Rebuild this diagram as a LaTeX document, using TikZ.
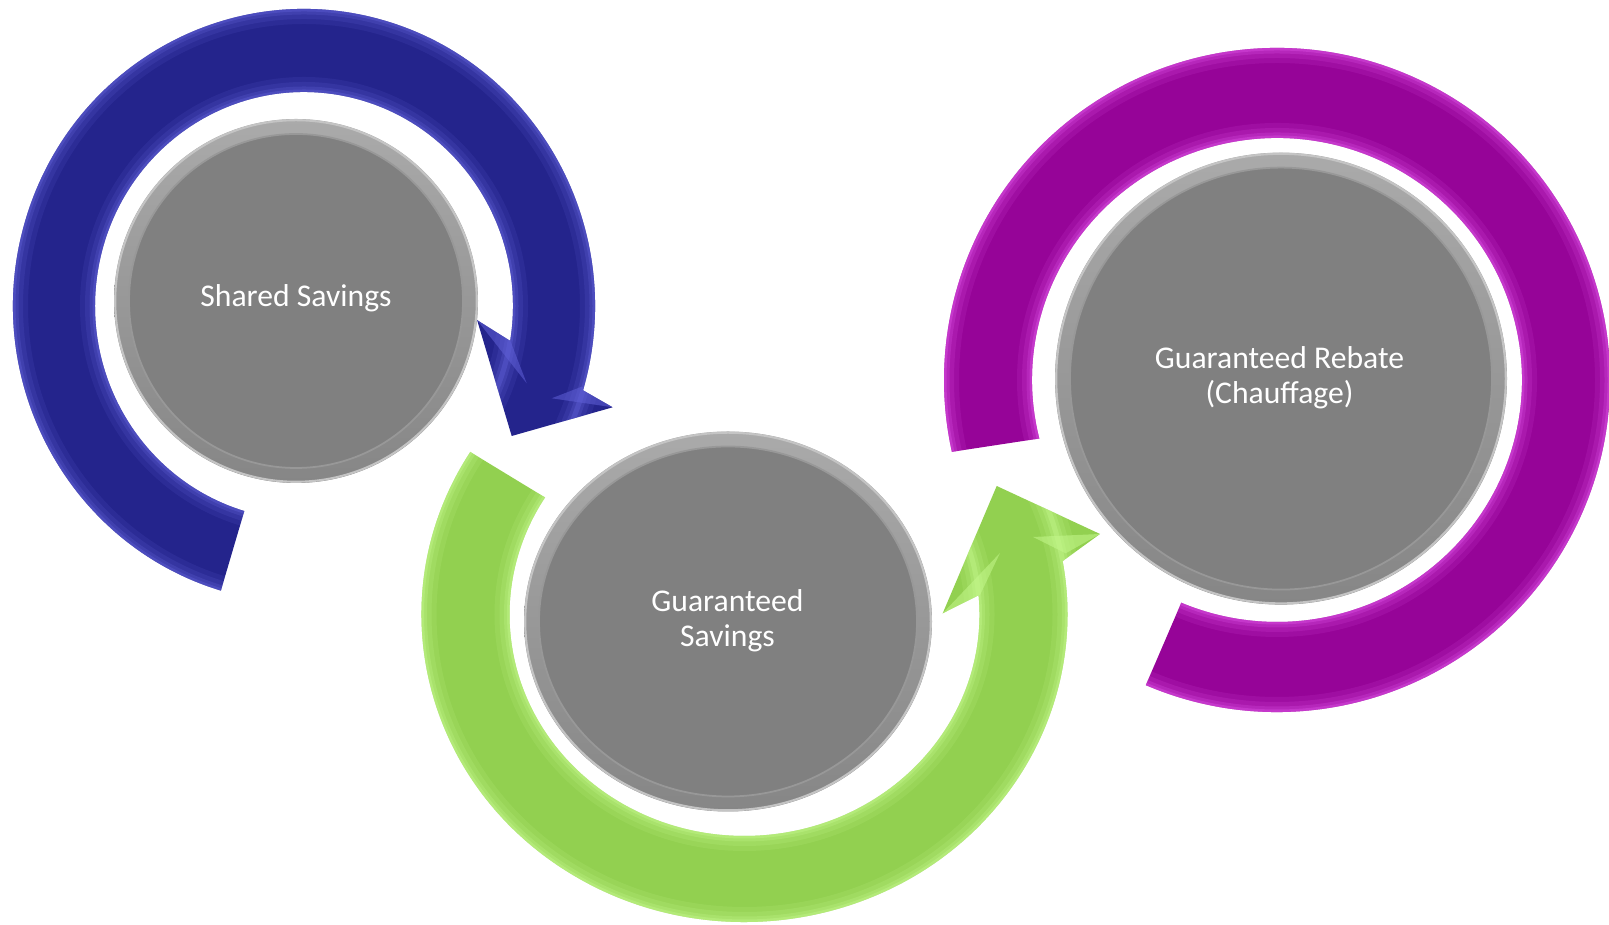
\documentclass[tikz,border=0pt]{standalone}
\usepackage{fontspec}
\setmainfont{Carlito}
\usetikzlibrary{calc}
\definecolor{bluebase}{RGB}{36,36,140}
\definecolor{bluelite}{RGB}{96,96,215}
\definecolor{greenbase}{RGB}{146,208,80}
\definecolor{greenlite}{RGB}{196,248,140}
\definecolor{purplebase}{RGB}{150,4,152}
\definecolor{purplelite}{RGB}{220,80,228}
\definecolor{diskflat}{RGB}{128,128,128}
\definecolor{rimtop}{RGB}{170,170,170}
\definecolor{rimbot}{RGB}{134,134,134}
\definecolor{rimedge}{RGB}{196,196,196}
\tikzset{
  ringtext/.style={text=white, font=\fontsize{9}{10}\selectfont, align=center, inner sep=0pt},
  hiA/.style={line width=0.30cm, opacity=0.14},
  hiB/.style={line width=0.20cm, opacity=0.18},
  hiC/.style={line width=0.11cm, opacity=0.26},
  hiD/.style={line width=0.05cm, opacity=0.4},
  facet/.style={opacity=0.55},
}
\newcommand\mydisk[4]{%
  \shade[top color=rimtop, bottom color=rimbot] (#1,#2) ellipse [x radius=#3, y radius=#4];
  \draw[rimedge, line width=0.6pt] (#1,#2) ellipse [x radius=#3-1.2, y radius=#4-1.2];
  \fill[diskflat] (#1,#2) ellipse [x radius=#3-15, y radius=#4-15];
  \draw[rimbot!85!white, line width=0.5pt] (#1,#2) ellipse [x radius=#3-15, y radius=#4-15];
}
\begin{document}
\begin{tikzpicture}[x=0.01cm,y=0.01cm]
\useasboundingbox (0,0) rectangle (1609,925);
\fill[white] (0,0) rectangle (1609,925);

\coordinate (C1) at (304,619);
\coordinate (C2) at (744.5,310.5);
\coordinate (C3) at (1277,545);

\def\bluepath{($(C1)+(253.4:291 and 297)$) arc[start angle=253.4, end angle=-16.5, x radius=291, y radius=297]
  -- (612.7,517.7) -- (511.7,489) -- (477.1,604.9)
  -- ($(C1)+(-9.4:209 and 214)$) arc[start angle=-9.4, end angle=253.4, x radius=209, y radius=214] -- cycle}
\def\greenpath{($(C2)+(148.1:323 and 307.5)$) arc[start angle=148.1, end angle=370, x radius=323, y radius=307.5]
  -- (1100,391) -- (996.7,439) -- (942.7,311.7)
  -- ($(C2)+(365:235 and 221.5)$) arc[start angle=365, end angle=148.1, x radius=235, y radius=221.5] -- cycle}
\def\purplepath{($(C3)+(246.8:333 and 332)$) arc[start angle=246.8, end angle=552.5, x radius=333, y radius=332]
  -- ($(C3)+(554:245 and 242)$) arc[start angle=554, end angle=247, x radius=245, y radius=242] -- cycle}

% blue arrow
\fill[bluebase] \bluepath;
\begin{scope}
  \clip \bluepath;
  \foreach \s in {hiA,hiB,hiC,hiD}{
    \draw[bluelite,\s] (C1) ellipse [x radius=291, y radius=297];
    \draw[bluelite,\s] (C1) ellipse [x radius=209, y radius=214];
  }
  \fill[bluelite,facet] (477.1,604.9) -- (510,585) -- (526.7,541.7) -- cycle;
  \fill[bluelite,facet] (612.7,517.7) -- (581.7,538.3) -- (551.7,526.7) -- cycle;
\end{scope}

% green arrow
\fill[greenbase] \greenpath;
\begin{scope}
  \clip \greenpath;
  \foreach \s in {hiA,hiB,hiC,hiD}{
    \draw[greenlite,\s] (C2) ellipse [x radius=323, y radius=307.5];
    \draw[greenlite,\s] (C2) ellipse [x radius=235, y radius=221.5];
  }
  \fill[greenlite,facet] (942.7,311.7) -- (980,330) -- (1000,372) -- cycle;
  \fill[greenlite,facet] (1100,391) -- (1065.7,371.7) -- (1033,388) -- cycle;
\end{scope}

% purple arrow
\fill[purplebase] \purplepath;
\begin{scope}
  \clip \purplepath;
  \foreach \s in {hiA,hiB,hiC,hiD}{
    \draw[purplelite,\s] (C3) ellipse [x radius=333, y radius=332];
    \draw[purplelite,\s] (C3) ellipse [x radius=245, y radius=242];
  }
\end{scope}

% grey discs
\mydisk{296}{624}{182}{182}
\mydisk{728}{303.5}{204}{190}
\mydisk{1281}{546.4}{226}{226}

\node[ringtext] (t1) at (296,626.4) {Shared Savings};
\node[ringtext] (t2) at (727.5,304.2) {Guaranteed\\Savings};
\node[ringtext] (t3) at (1279.5,547.4) {Guaranteed Rebate\\(Chauffage)};
\end{tikzpicture}
\end{document}
